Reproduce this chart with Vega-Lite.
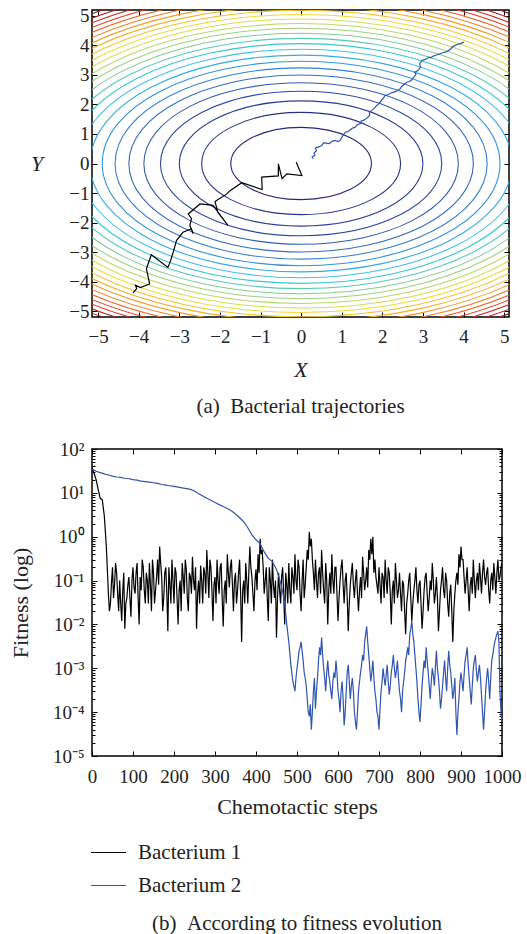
{
"$schema": "https://vega.github.io/schema/vega-lite/v6.json",
"background": "white",
"padding": {"left": 8, "top": 6, "right": 5, "bottom": 5},
"spacing": 21,
"resolve": {"scale": {"color": "independent"}, "legend": {"color": "independent"}},
"config": {
  "font": "Liberation Serif",
  "view": {"stroke": "black", "strokeWidth": 1.5},
  "axis": {"domain": false, "grid": false, "labelFlush": false, "labelFont": "Liberation Serif", "labelFontSize": 19, "labelColor": "#222222", "tickColor": "black", "tickSize": -5, "tickWidth": 1, "labelPadding": 10, "titleFont": "Liberation Serif", "titleFontSize": 22, "titleFontWeight": "normal", "titleColor": "#222222"},
  "title": {"font": "Liberation Serif", "fontSize": 21, "fontWeight": "normal", "color": "#222222"},
  "legend": {"labelFont": "Liberation Serif", "labelFontSize": 21, "labelColor": "#222222"}
},
"vconcat": [
{
  "width": 417, "height": 307,
  "title": {"text": "(a)\u2002Bacterial trajectories", "orient": "bottom", "offset": 16},
  "layer": [
    {
      "data": {"values": [{"level":3},{"level":6},{"level":9},{"level":12},{"level":15},{"level":18},{"level":21},{"level":24},{"level":27},{"level":30},{"level":33},{"level":36},{"level":39},{"level":42},{"level":45},{"level":48},{"level":51},{"level":54},{"level":57},{"level":60},{"level":63},{"level":66},{"level":69},{"level":72},{"level":75},{"level":78}]},
      "mark": {"type": "point", "shape": "M 1 0 C 1 0.2838 0.5523 0.5138 0 0.5138 C -0.5523 0.5138 -1 0.2838 -1 0 C -1 -0.2838 -0.5523 -0.5138 0 -0.5138 C 0.5523 -0.5138 1 -0.2838 1 0 Z", "filled": false, "strokeWidth": 1.1, "opacity": 1, "clip": true},
      "encoding": {
        "x": {"datum": 0, "type": "quantitative", "scale": {"domain": [-5.15, 5.12], "nice": false, "zero": false}, "axis": {"orient": "bottom", "values": [-5,-4,-3,-2,-1,0,1,2,3,4,5], "labelPadding": 15, "title": "X", "titleFontStyle": "italic", "titlePadding": 13}},
        "y": {"datum": 0, "type": "quantitative", "scale": {"domain": [-5.2, 5.2], "nice": false, "zero": false}, "axis": {"orient": "left", "values": [-5,-4,-3,-2,-1,0,1,2,3,4,5], "labelPadding": 8, "title": "Y", "titleFontStyle": "italic", "titleAngle": 0, "titleBaseline": "middle", "titleAlign": "right", "titlePadding": 26}},
        "size": {"field": "level", "type": "quantitative", "scale": {"domain": [0, 78], "range": [0, 514285]}, "legend": null},
        "color": {"field": "level", "type": "quantitative", "scale": {"domain": [0, 10, 20, 30, 40, 50, 60, 70, 80.3], "range": ["#1b2168", "#2b3f9c", "#3a78c8", "#45c0ec", "#93cb8a", "#ede23b", "#f29a2c", "#e2332a", "#7d1a1a"]}, "legend": null}
      }
    },
    {
      "data": {"values": [
        {"bacterium":"Bacterium 1","i":0,"x":-4.14,"y":-4.38},
        {"bacterium":"Bacterium 1","i":1,"x":-4.05,"y":-4.24},
        {"bacterium":"Bacterium 1","i":2,"x":-4.08,"y":-4.12},
        {"bacterium":"Bacterium 1","i":3,"x":-3.96,"y":-4.20},
        {"bacterium":"Bacterium 1","i":4,"x":-3.73,"y":-4.08},
        {"bacterium":"Bacterium 1","i":5,"x":-3.81,"y":-3.57},
        {"bacterium":"Bacterium 1","i":6,"x":-3.69,"y":-3.09},
        {"bacterium":"Bacterium 1","i":7,"x":-3.28,"y":-3.52},
        {"bacterium":"Bacterium 1","i":8,"x":-3.23,"y":-3.35},
        {"bacterium":"Bacterium 1","i":9,"x":-3.15,"y":-3.01},
        {"bacterium":"Bacterium 1","i":10,"x":-3.07,"y":-2.61},
        {"bacterium":"Bacterium 1","i":11,"x":-2.91,"y":-2.33},
        {"bacterium":"Bacterium 1","i":12,"x":-2.70,"y":-2.21},
        {"bacterium":"Bacterium 1","i":13,"x":-2.66,"y":-2.38},
        {"bacterium":"Bacterium 1","i":14,"x":-2.74,"y":-2.10},
        {"bacterium":"Bacterium 1","i":15,"x":-2.70,"y":-1.87},
        {"bacterium":"Bacterium 1","i":16,"x":-2.78,"y":-1.71},
        {"bacterium":"Bacterium 1","i":17,"x":-2.49,"y":-1.37},
        {"bacterium":"Bacterium 1","i":18,"x":-2.17,"y":-1.42},
        {"bacterium":"Bacterium 1","i":19,"x":-1.80,"y":-2.10},
        {"bacterium":"Bacterium 1","i":20,"x":-2.05,"y":-1.66},
        {"bacterium":"Bacterium 1","i":21,"x":-2.12,"y":-1.29},
        {"bacterium":"Bacterium 1","i":22,"x":-1.83,"y":-1.03},
        {"bacterium":"Bacterium 1","i":23,"x":-1.75,"y":-0.92},
        {"bacterium":"Bacterium 1","i":24,"x":-1.46,"y":-0.65},
        {"bacterium":"Bacterium 1","i":25,"x":-0.96,"y":-0.88},
        {"bacterium":"Bacterium 1","i":26,"x":-0.97,"y":-0.46},
        {"bacterium":"Bacterium 1","i":27,"x":-0.56,"y":-0.42},
        {"bacterium":"Bacterium 1","i":28,"x":-0.56,"y":-0.01},
        {"bacterium":"Bacterium 1","i":29,"x":-0.47,"y":-0.51},
        {"bacterium":"Bacterium 1","i":30,"x":-0.35,"y":-0.35},
        {"bacterium":"Bacterium 1","i":31,"x":0.02,"y":-0.41},
        {"bacterium":"Bacterium 1","i":32,"x":-0.12,"y":0.04},
        {"bacterium":"Bacterium 2","i":0,"x":0.30,"y":0.16},
        {"bacterium":"Bacterium 2","i":1,"x":0.27,"y":0.22},
        {"bacterium":"Bacterium 2","i":2,"x":0.34,"y":0.28},
        {"bacterium":"Bacterium 2","i":3,"x":0.32,"y":0.36},
        {"bacterium":"Bacterium 2","i":4,"x":0.38,"y":0.44},
        {"bacterium":"Bacterium 2","i":5,"x":0.35,"y":0.52},
        {"bacterium":"Bacterium 2","i":6,"x":0.45,"y":0.57},
        {"bacterium":"Bacterium 2","i":7,"x":0.51,"y":0.61},
        {"bacterium":"Bacterium 2","i":8,"x":0.55,"y":0.70},
        {"bacterium":"Bacterium 2","i":9,"x":0.62,"y":0.69},
        {"bacterium":"Bacterium 2","i":10,"x":0.70,"y":0.67},
        {"bacterium":"Bacterium 2","i":11,"x":0.76,"y":0.75},
        {"bacterium":"Bacterium 2","i":12,"x":0.84,"y":0.78},
        {"bacterium":"Bacterium 2","i":13,"x":0.90,"y":0.74},
        {"bacterium":"Bacterium 2","i":14,"x":0.96,"y":0.78},
        {"bacterium":"Bacterium 2","i":15,"x":1.00,"y":0.88},
        {"bacterium":"Bacterium 2","i":16,"x":1.03,"y":0.95},
        {"bacterium":"Bacterium 2","i":17,"x":1.09,"y":1.06},
        {"bacterium":"Bacterium 2","i":18,"x":1.15,"y":1.08},
        {"bacterium":"Bacterium 2","i":19,"x":1.21,"y":1.14},
        {"bacterium":"Bacterium 2","i":20,"x":1.27,"y":1.20},
        {"bacterium":"Bacterium 2","i":21,"x":1.33,"y":1.23},
        {"bacterium":"Bacterium 2","i":22,"x":1.38,"y":1.31},
        {"bacterium":"Bacterium 2","i":23,"x":1.46,"y":1.35},
        {"bacterium":"Bacterium 2","i":24,"x":1.48,"y":1.44},
        {"bacterium":"Bacterium 2","i":25,"x":1.55,"y":1.47},
        {"bacterium":"Bacterium 2","i":26,"x":1.60,"y":1.52},
        {"bacterium":"Bacterium 2","i":27,"x":1.66,"y":1.58},
        {"bacterium":"Bacterium 2","i":28,"x":1.69,"y":1.66},
        {"bacterium":"Bacterium 2","i":29,"x":1.68,"y":1.74},
        {"bacterium":"Bacterium 2","i":30,"x":1.74,"y":1.80},
        {"bacterium":"Bacterium 2","i":31,"x":1.79,"y":1.85},
        {"bacterium":"Bacterium 2","i":32,"x":1.85,"y":1.95},
        {"bacterium":"Bacterium 2","i":33,"x":1.91,"y":2.02},
        {"bacterium":"Bacterium 2","i":34,"x":1.96,"y":2.10},
        {"bacterium":"Bacterium 2","i":35,"x":1.99,"y":2.16},
        {"bacterium":"Bacterium 2","i":36,"x":2.04,"y":2.24},
        {"bacterium":"Bacterium 2","i":37,"x":2.07,"y":2.31},
        {"bacterium":"Bacterium 2","i":38,"x":2.14,"y":2.33},
        {"bacterium":"Bacterium 2","i":39,"x":2.20,"y":2.38},
        {"bacterium":"Bacterium 2","i":40,"x":2.28,"y":2.42},
        {"bacterium":"Bacterium 2","i":41,"x":2.35,"y":2.45},
        {"bacterium":"Bacterium 2","i":42,"x":2.40,"y":2.49},
        {"bacterium":"Bacterium 2","i":43,"x":2.44,"y":2.53},
        {"bacterium":"Bacterium 2","i":44,"x":2.47,"y":2.60},
        {"bacterium":"Bacterium 2","i":45,"x":2.52,"y":2.66},
        {"bacterium":"Bacterium 2","i":46,"x":2.61,"y":2.76},
        {"bacterium":"Bacterium 2","i":47,"x":2.66,"y":2.77},
        {"bacterium":"Bacterium 2","i":48,"x":2.71,"y":2.81},
        {"bacterium":"Bacterium 2","i":49,"x":2.76,"y":2.90},
        {"bacterium":"Bacterium 2","i":50,"x":2.79,"y":2.95},
        {"bacterium":"Bacterium 2","i":51,"x":2.83,"y":3.02},
        {"bacterium":"Bacterium 2","i":52,"x":2.80,"y":3.09},
        {"bacterium":"Bacterium 2","i":53,"x":2.87,"y":3.14},
        {"bacterium":"Bacterium 2","i":54,"x":2.90,"y":3.18},
        {"bacterium":"Bacterium 2","i":55,"x":2.94,"y":3.27},
        {"bacterium":"Bacterium 2","i":56,"x":2.92,"y":3.38},
        {"bacterium":"Bacterium 2","i":57,"x":2.98,"y":3.49},
        {"bacterium":"Bacterium 2","i":58,"x":3.04,"y":3.52},
        {"bacterium":"Bacterium 2","i":59,"x":3.09,"y":3.55},
        {"bacterium":"Bacterium 2","i":60,"x":3.15,"y":3.60},
        {"bacterium":"Bacterium 2","i":61,"x":3.19,"y":3.58},
        {"bacterium":"Bacterium 2","i":62,"x":3.25,"y":3.64},
        {"bacterium":"Bacterium 2","i":63,"x":3.31,"y":3.66},
        {"bacterium":"Bacterium 2","i":64,"x":3.38,"y":3.70},
        {"bacterium":"Bacterium 2","i":65,"x":3.43,"y":3.72},
        {"bacterium":"Bacterium 2","i":66,"x":3.50,"y":3.76},
        {"bacterium":"Bacterium 2","i":67,"x":3.56,"y":3.77},
        {"bacterium":"Bacterium 2","i":68,"x":3.62,"y":3.82},
        {"bacterium":"Bacterium 2","i":69,"x":3.66,"y":3.85},
        {"bacterium":"Bacterium 2","i":70,"x":3.71,"y":3.92},
        {"bacterium":"Bacterium 2","i":71,"x":3.75,"y":3.97},
        {"bacterium":"Bacterium 2","i":72,"x":3.80,"y":4.00},
        {"bacterium":"Bacterium 2","i":73,"x":3.84,"y":4.03},
        {"bacterium":"Bacterium 2","i":74,"x":3.92,"y":4.06},
        {"bacterium":"Bacterium 2","i":75,"x":4.01,"y":4.11}
      ]},
      "mark": {"type": "line", "strokeWidth": 1.2, "clip": true},
      "encoding": {
        "x": {"field": "x", "type": "quantitative", "axis": {"orient": "top", "values": [-5,-4,-3,-2,-1,0,1,2,3,4,5], "labels": false, "title": null}},
        "y": {"field": "y", "type": "quantitative", "axis": {"orient": "right", "values": [-5,-4,-3,-2,-1,0,1,2,3,4,5], "labels": false, "title": null}},
        "color": {"field": "bacterium", "type": "nominal", "scale": {"domain": ["Bacterium 1", "Bacterium 2"], "range": ["#000000", "#2f55ae"]}, "legend": null},
        "order": {"field": "i", "type": "quantitative"}
      }
    }
  ],
  "resolve": {"axis": {"x": "independent", "y": "independent"}, "scale": {"color": "independent", "size": "independent"}}
},
{
  "width": 410, "height": 307,
  "title": {"text": "(b)\u2002According to fitness evolution", "orient": "bottom", "offset": 17},
  "data": {"values": [
{"bacterium":"Bacterium 1","step":0,"fitness":38},{"bacterium":"Bacterium 1","step":5,"fitness":28},{"bacterium":"Bacterium 1","step":10,"fitness":20},{"bacterium":"Bacterium 1","step":15,"fitness":12},{"bacterium":"Bacterium 1","step":20,"fitness":7.5},{"bacterium":"Bacterium 1","step":25,"fitness":7},{"bacterium":"Bacterium 1","step":30,"fitness":3},{"bacterium":"Bacterium 1","step":35,"fitness":0.6},{"bacterium":"Bacterium 1","step":40,"fitness":0.05},{"bacterium":"Bacterium 1","step":45,"fitness":0.03},
{"bacterium":"Bacterium 1","step":50,"fitness":0.2},{"bacterium":"Bacterium 1","step":55,"fitness":0.08},{"bacterium":"Bacterium 1","step":60,"fitness":0.15},{"bacterium":"Bacterium 1","step":65,"fitness":0.02},{"bacterium":"Bacterium 1","step":70,"fitness":0.03},{"bacterium":"Bacterium 1","step":75,"fitness":0.06},{"bacterium":"Bacterium 1","step":80,"fitness":0.008},{"bacterium":"Bacterium 1","step":85,"fitness":0.04},{"bacterium":"Bacterium 1","step":90,"fitness":0.12},{"bacterium":"Bacterium 1","step":95,"fitness":0.015},
{"bacterium":"Bacterium 1","step":100,"fitness":0.2},{"bacterium":"Bacterium 1","step":105,"fitness":0.05},{"bacterium":"Bacterium 1","step":110,"fitness":0.25},{"bacterium":"Bacterium 1","step":115,"fitness":0.01},{"bacterium":"Bacterium 1","step":120,"fitness":0.06},{"bacterium":"Bacterium 1","step":125,"fitness":0.2},{"bacterium":"Bacterium 1","step":130,"fitness":0.03},{"bacterium":"Bacterium 1","step":135,"fitness":0.1},{"bacterium":"Bacterium 1","step":140,"fitness":0.25},{"bacterium":"Bacterium 1","step":145,"fitness":0.02},
{"bacterium":"Bacterium 1","step":150,"fitness":0.15},{"bacterium":"Bacterium 1","step":155,"fitness":0.06},{"bacterium":"Bacterium 1","step":160,"fitness":0.3},{"bacterium":"Bacterium 1","step":165,"fitness":0.6},{"bacterium":"Bacterium 1","step":170,"fitness":0.12},{"bacterium":"Bacterium 1","step":175,"fitness":0.04},{"bacterium":"Bacterium 1","step":180,"fitness":0.2},{"bacterium":"Bacterium 1","step":185,"fitness":0.007},{"bacterium":"Bacterium 1","step":190,"fitness":0.08},{"bacterium":"Bacterium 1","step":195,"fitness":0.3},
{"bacterium":"Bacterium 1","step":200,"fitness":0.03},{"bacterium":"Bacterium 1","step":205,"fitness":0.15},{"bacterium":"Bacterium 1","step":210,"fitness":0.01},{"bacterium":"Bacterium 1","step":215,"fitness":0.1},{"bacterium":"Bacterium 1","step":220,"fitness":0.25},{"bacterium":"Bacterium 1","step":225,"fitness":0.05},{"bacterium":"Bacterium 1","step":230,"fitness":0.18},{"bacterium":"Bacterium 1","step":235,"fitness":0.02},{"bacterium":"Bacterium 1","step":240,"fitness":0.12},{"bacterium":"Bacterium 1","step":245,"fitness":0.35},
{"bacterium":"Bacterium 1","step":250,"fitness":0.06},{"bacterium":"Bacterium 1","step":255,"fitness":0.008},{"bacterium":"Bacterium 1","step":260,"fitness":0.1},{"bacterium":"Bacterium 1","step":265,"fitness":0.22},{"bacterium":"Bacterium 1","step":270,"fitness":0.03},{"bacterium":"Bacterium 1","step":275,"fitness":0.15},{"bacterium":"Bacterium 1","step":280,"fitness":0.5},{"bacterium":"Bacterium 1","step":285,"fitness":0.04},{"bacterium":"Bacterium 1","step":290,"fitness":0.2},{"bacterium":"Bacterium 1","step":295,"fitness":0.012},
{"bacterium":"Bacterium 1","step":300,"fitness":0.12},{"bacterium":"Bacterium 1","step":305,"fitness":0.3},{"bacterium":"Bacterium 1","step":310,"fitness":0.05},{"bacterium":"Bacterium 1","step":315,"fitness":0.25},{"bacterium":"Bacterium 1","step":320,"fitness":0.009},{"bacterium":"Bacterium 1","step":325,"fitness":0.1},{"bacterium":"Bacterium 1","step":330,"fitness":0.4},{"bacterium":"Bacterium 1","step":335,"fitness":0.07},{"bacterium":"Bacterium 1","step":340,"fitness":0.3},{"bacterium":"Bacterium 1","step":345,"fitness":0.02},
{"bacterium":"Bacterium 1","step":350,"fitness":0.15},{"bacterium":"Bacterium 1","step":355,"fitness":0.06},{"bacterium":"Bacterium 1","step":360,"fitness":0.3},{"bacterium":"Bacterium 1","step":365,"fitness":0.004},{"bacterium":"Bacterium 1","step":370,"fitness":0.1},{"bacterium":"Bacterium 1","step":375,"fitness":0.25},{"bacterium":"Bacterium 1","step":380,"fitness":0.03},{"bacterium":"Bacterium 1","step":385,"fitness":0.6},{"bacterium":"Bacterium 1","step":390,"fitness":0.12},{"bacterium":"Bacterium 1","step":395,"fitness":0.02},
{"bacterium":"Bacterium 1","step":400,"fitness":0.18},{"bacterium":"Bacterium 1","step":405,"fitness":0.4},{"bacterium":"Bacterium 1","step":410,"fitness":0.9},{"bacterium":"Bacterium 1","step":415,"fitness":0.5},{"bacterium":"Bacterium 1","step":420,"fitness":0.05},{"bacterium":"Bacterium 1","step":425,"fitness":0.2},{"bacterium":"Bacterium 1","step":430,"fitness":0.012},{"bacterium":"Bacterium 1","step":435,"fitness":0.1},{"bacterium":"Bacterium 1","step":440,"fitness":0.3},{"bacterium":"Bacterium 1","step":445,"fitness":0.04},
{"bacterium":"Bacterium 1","step":450,"fitness":0.005},{"bacterium":"Bacterium 1","step":455,"fitness":0.15},{"bacterium":"Bacterium 1","step":460,"fitness":0.03},{"bacterium":"Bacterium 1","step":465,"fitness":0.2},{"bacterium":"Bacterium 1","step":470,"fitness":0.01},{"bacterium":"Bacterium 1","step":475,"fitness":0.08},{"bacterium":"Bacterium 1","step":480,"fitness":0.25},{"bacterium":"Bacterium 1","step":485,"fitness":0.03},{"bacterium":"Bacterium 1","step":490,"fitness":0.12},{"bacterium":"Bacterium 1","step":495,"fitness":0.4},
{"bacterium":"Bacterium 1","step":500,"fitness":0.06},{"bacterium":"Bacterium 1","step":505,"fitness":0.2},{"bacterium":"Bacterium 1","step":510,"fitness":0.02},{"bacterium":"Bacterium 1","step":515,"fitness":0.3},{"bacterium":"Bacterium 1","step":520,"fitness":0.08},{"bacterium":"Bacterium 1","step":525,"fitness":0.5},{"bacterium":"Bacterium 1","step":530,"fitness":1.3},{"bacterium":"Bacterium 1","step":535,"fitness":0.9},{"bacterium":"Bacterium 1","step":540,"fitness":0.15},{"bacterium":"Bacterium 1","step":545,"fitness":0.3},
{"bacterium":"Bacterium 1","step":550,"fitness":0.04},{"bacterium":"Bacterium 1","step":555,"fitness":0.2},{"bacterium":"Bacterium 1","step":560,"fitness":0.5},{"bacterium":"Bacterium 1","step":565,"fitness":0.06},{"bacterium":"Bacterium 1","step":570,"fitness":0.25},{"bacterium":"Bacterium 1","step":575,"fitness":0.01},{"bacterium":"Bacterium 1","step":580,"fitness":0.15},{"bacterium":"Bacterium 1","step":585,"fitness":0.4},{"bacterium":"Bacterium 1","step":590,"fitness":0.05},{"bacterium":"Bacterium 1","step":595,"fitness":0.2},
{"bacterium":"Bacterium 1","step":600,"fitness":0.012},{"bacterium":"Bacterium 1","step":605,"fitness":0.1},{"bacterium":"Bacterium 1","step":610,"fitness":0.3},{"bacterium":"Bacterium 1","step":615,"fitness":0.03},{"bacterium":"Bacterium 1","step":620,"fitness":0.15},{"bacterium":"Bacterium 1","step":625,"fitness":0.007},{"bacterium":"Bacterium 1","step":630,"fitness":0.08},{"bacterium":"Bacterium 1","step":635,"fitness":0.25},{"bacterium":"Bacterium 1","step":640,"fitness":0.04},{"bacterium":"Bacterium 1","step":645,"fitness":0.18},
{"bacterium":"Bacterium 1","step":650,"fitness":0.02},{"bacterium":"Bacterium 1","step":655,"fitness":0.12},{"bacterium":"Bacterium 1","step":660,"fitness":0.35},{"bacterium":"Bacterium 1","step":665,"fitness":0.06},{"bacterium":"Bacterium 1","step":670,"fitness":0.2},{"bacterium":"Bacterium 1","step":675,"fitness":0.5},{"bacterium":"Bacterium 1","step":680,"fitness":0.9},{"bacterium":"Bacterium 1","step":685,"fitness":1.0},{"bacterium":"Bacterium 1","step":690,"fitness":0.3},{"bacterium":"Bacterium 1","step":695,"fitness":0.08},
{"bacterium":"Bacterium 1","step":700,"fitness":0.2},{"bacterium":"Bacterium 1","step":705,"fitness":0.03},{"bacterium":"Bacterium 1","step":710,"fitness":0.12},{"bacterium":"Bacterium 1","step":715,"fitness":0.3},{"bacterium":"Bacterium 1","step":720,"fitness":0.05},{"bacterium":"Bacterium 1","step":725,"fitness":0.15},{"bacterium":"Bacterium 1","step":730,"fitness":0.01},{"bacterium":"Bacterium 1","step":735,"fitness":0.1},{"bacterium":"Bacterium 1","step":740,"fitness":0.25},{"bacterium":"Bacterium 1","step":745,"fitness":0.04},
{"bacterium":"Bacterium 1","step":750,"fitness":0.15},{"bacterium":"Bacterium 1","step":755,"fitness":0.02},{"bacterium":"Bacterium 1","step":760,"fitness":0.08},{"bacterium":"Bacterium 1","step":765,"fitness":0.006},{"bacterium":"Bacterium 1","step":770,"fitness":0.05},{"bacterium":"Bacterium 1","step":775,"fitness":0.15},{"bacterium":"Bacterium 1","step":780,"fitness":0.012},{"bacterium":"Bacterium 1","step":785,"fitness":0.06},{"bacterium":"Bacterium 1","step":790,"fitness":0.2},{"bacterium":"Bacterium 1","step":795,"fitness":0.03},
{"bacterium":"Bacterium 1","step":800,"fitness":0.1},{"bacterium":"Bacterium 1","step":805,"fitness":0.008},{"bacterium":"Bacterium 1","step":810,"fitness":0.06},{"bacterium":"Bacterium 1","step":815,"fitness":0.15},{"bacterium":"Bacterium 1","step":820,"fitness":0.02},{"bacterium":"Bacterium 1","step":825,"fitness":0.1},{"bacterium":"Bacterium 1","step":830,"fitness":0.25},{"bacterium":"Bacterium 1","step":835,"fitness":0.03},{"bacterium":"Bacterium 1","step":840,"fitness":0.12},{"bacterium":"Bacterium 1","step":845,"fitness":0.007},
{"bacterium":"Bacterium 1","step":850,"fitness":0.06},{"bacterium":"Bacterium 1","step":855,"fitness":0.2},{"bacterium":"Bacterium 1","step":860,"fitness":0.04},{"bacterium":"Bacterium 1","step":865,"fitness":0.1},{"bacterium":"Bacterium 1","step":870,"fitness":0.015},{"bacterium":"Bacterium 1","step":875,"fitness":0.08},{"bacterium":"Bacterium 1","step":880,"fitness":0.004},{"bacterium":"Bacterium 1","step":885,"fitness":0.05},{"bacterium":"Bacterium 1","step":890,"fitness":0.15},{"bacterium":"Bacterium 1","step":895,"fitness":0.4},
{"bacterium":"Bacterium 1","step":900,"fitness":0.6},{"bacterium":"Bacterium 1","step":905,"fitness":0.3},{"bacterium":"Bacterium 1","step":910,"fitness":0.05},{"bacterium":"Bacterium 1","step":915,"fitness":0.2},{"bacterium":"Bacterium 1","step":920,"fitness":0.02},{"bacterium":"Bacterium 1","step":925,"fitness":0.12},{"bacterium":"Bacterium 1","step":930,"fitness":0.3},{"bacterium":"Bacterium 1","step":935,"fitness":0.04},{"bacterium":"Bacterium 1","step":940,"fitness":0.15},{"bacterium":"Bacterium 1","step":945,"fitness":0.25},
{"bacterium":"Bacterium 1","step":950,"fitness":0.05},{"bacterium":"Bacterium 1","step":955,"fitness":0.3},{"bacterium":"Bacterium 1","step":960,"fitness":0.08},{"bacterium":"Bacterium 1","step":965,"fitness":0.2},{"bacterium":"Bacterium 1","step":970,"fitness":0.03},{"bacterium":"Bacterium 1","step":975,"fitness":0.15},{"bacterium":"Bacterium 1","step":980,"fitness":0.25},{"bacterium":"Bacterium 1","step":985,"fitness":0.05},{"bacterium":"Bacterium 1","step":990,"fitness":0.3},{"bacterium":"Bacterium 1","step":995,"fitness":0.12},{"bacterium":"Bacterium 1","step":1000,"fitness":0.25},
{"bacterium":"Bacterium 1","step":42.5,"fitness":0.02},{"bacterium":"Bacterium 1","step":47.5,"fitness":0.09},{"bacterium":"Bacterium 1","step":52.5,"fitness":0.04},{"bacterium":"Bacterium 1","step":57.5,"fitness":0.25},{"bacterium":"Bacterium 1","step":62.5,"fitness":0.05},{"bacterium":"Bacterium 1","step":67.5,"fitness":0.1},{"bacterium":"Bacterium 1","step":72.5,"fitness":0.012},{"bacterium":"Bacterium 1","step":77.5,"fitness":0.15},{"bacterium":"Bacterium 1","step":82.5,"fitness":0.03},{"bacterium":"Bacterium 1","step":87.5,"fitness":0.08},
{"bacterium":"Bacterium 1","step":92.5,"fitness":0.04},{"bacterium":"Bacterium 1","step":97.5,"fitness":0.1},{"bacterium":"Bacterium 1","step":102.5,"fitness":0.07},{"bacterium":"Bacterium 1","step":107.5,"fitness":0.15},{"bacterium":"Bacterium 1","step":112.5,"fitness":0.04},{"bacterium":"Bacterium 1","step":117.5,"fitness":0.12},{"bacterium":"Bacterium 1","step":122.5,"fitness":0.3},{"bacterium":"Bacterium 1","step":127.5,"fitness":0.06},{"bacterium":"Bacterium 1","step":132.5,"fitness":0.15},{"bacterium":"Bacterium 1","step":137.5,"fitness":0.03},
{"bacterium":"Bacterium 1","step":142.5,"fitness":0.08},{"bacterium":"Bacterium 1","step":147.5,"fitness":0.3},{"bacterium":"Bacterium 1","step":152.5,"fitness":0.03},{"bacterium":"Bacterium 1","step":157.5,"fitness":0.12},{"bacterium":"Bacterium 1","step":162.5,"fitness":0.08},{"bacterium":"Bacterium 1","step":167.5,"fitness":0.25},{"bacterium":"Bacterium 1","step":172.5,"fitness":0.02},{"bacterium":"Bacterium 1","step":177.5,"fitness":0.15},{"bacterium":"Bacterium 1","step":182.5,"fitness":0.05},{"bacterium":"Bacterium 1","step":187.5,"fitness":0.2},
{"bacterium":"Bacterium 1","step":192.5,"fitness":0.03},{"bacterium":"Bacterium 1","step":197.5,"fitness":0.1},{"bacterium":"Bacterium 1","step":202.5,"fitness":0.2},{"bacterium":"Bacterium 1","step":207.5,"fitness":0.04},{"bacterium":"Bacterium 1","step":212.5,"fitness":0.06},{"bacterium":"Bacterium 1","step":217.5,"fitness":0.02},{"bacterium":"Bacterium 1","step":222.5,"fitness":0.12},{"bacterium":"Bacterium 1","step":227.5,"fitness":0.3},{"bacterium":"Bacterium 1","step":232.5,"fitness":0.04},{"bacterium":"Bacterium 1","step":237.5,"fitness":0.15},
{"bacterium":"Bacterium 1","step":242.5,"fitness":0.05},{"bacterium":"Bacterium 1","step":247.5,"fitness":0.1},{"bacterium":"Bacterium 1","step":252.5,"fitness":0.2},{"bacterium":"Bacterium 1","step":257.5,"fitness":0.05},{"bacterium":"Bacterium 1","step":262.5,"fitness":0.03},{"bacterium":"Bacterium 1","step":267.5,"fitness":0.1},{"bacterium":"Bacterium 1","step":272.5,"fitness":0.2},{"bacterium":"Bacterium 1","step":277.5,"fitness":0.05},{"bacterium":"Bacterium 1","step":282.5,"fitness":0.15},{"bacterium":"Bacterium 1","step":287.5,"fitness":0.3},
{"bacterium":"Bacterium 1","step":292.5,"fitness":0.06},{"bacterium":"Bacterium 1","step":297.5,"fitness":0.08},{"bacterium":"Bacterium 1","step":302.5,"fitness":0.03},{"bacterium":"Bacterium 1","step":307.5,"fitness":0.1},{"bacterium":"Bacterium 1","step":312.5,"fitness":0.2},{"bacterium":"Bacterium 1","step":317.5,"fitness":0.04},{"bacterium":"Bacterium 1","step":322.5,"fitness":0.06},{"bacterium":"Bacterium 1","step":327.5,"fitness":0.03},{"bacterium":"Bacterium 1","step":332.5,"fitness":0.15},{"bacterium":"Bacterium 1","step":337.5,"fitness":0.2},
{"bacterium":"Bacterium 1","step":342.5,"fitness":0.08},{"bacterium":"Bacterium 1","step":347.5,"fitness":0.1},{"bacterium":"Bacterium 1","step":352.5,"fitness":0.03},{"bacterium":"Bacterium 1","step":357.5,"fitness":0.15},{"bacterium":"Bacterium 1","step":362.5,"fitness":0.05},{"bacterium":"Bacterium 1","step":367.5,"fitness":0.06},{"bacterium":"Bacterium 1","step":372.5,"fitness":0.03},{"bacterium":"Bacterium 1","step":377.5,"fitness":0.1},{"bacterium":"Bacterium 1","step":382.5,"fitness":0.15},{"bacterium":"Bacterium 1","step":387.5,"fitness":0.2},
{"bacterium":"Bacterium 1","step":392.5,"fitness":0.05},{"bacterium":"Bacterium 1","step":397.5,"fitness":0.1},{"bacterium":"Bacterium 1","step":402.5,"fitness":0.06},{"bacterium":"Bacterium 1","step":407.5,"fitness":0.15},{"bacterium":"Bacterium 1","step":412.5,"fitness":0.4},{"bacterium":"Bacterium 1","step":417.5,"fitness":0.2},{"bacterium":"Bacterium 1","step":422.5,"fitness":0.1},{"bacterium":"Bacterium 1","step":427.5,"fitness":0.04},{"bacterium":"Bacterium 1","step":432.5,"fitness":0.2},{"bacterium":"Bacterium 1","step":437.5,"fitness":0.03},
{"bacterium":"Bacterium 1","step":442.5,"fitness":0.08},{"bacterium":"Bacterium 1","step":447.5,"fitness":0.1},{"bacterium":"Bacterium 1","step":452.5,"fitness":0.04},{"bacterium":"Bacterium 1","step":457.5,"fitness":0.06},{"bacterium":"Bacterium 1","step":462.5,"fitness":0.12},{"bacterium":"Bacterium 1","step":467.5,"fitness":0.05},{"bacterium":"Bacterium 1","step":472.5,"fitness":0.15},{"bacterium":"Bacterium 1","step":477.5,"fitness":0.03},{"bacterium":"Bacterium 1","step":482.5,"fitness":0.06},{"bacterium":"Bacterium 1","step":487.5,"fitness":0.2},
{"bacterium":"Bacterium 1","step":492.5,"fitness":0.05},{"bacterium":"Bacterium 1","step":497.5,"fitness":0.1},{"bacterium":"Bacterium 1","step":502.5,"fitness":0.3},{"bacterium":"Bacterium 1","step":507.5,"fitness":0.05},{"bacterium":"Bacterium 1","step":512.5,"fitness":0.1},{"bacterium":"Bacterium 1","step":517.5,"fitness":0.04},{"bacterium":"Bacterium 1","step":522.5,"fitness":0.2},{"bacterium":"Bacterium 1","step":527.5,"fitness":0.3},{"bacterium":"Bacterium 1","step":532.5,"fitness":0.6},{"bacterium":"Bacterium 1","step":537.5,"fitness":0.3},
{"bacterium":"Bacterium 1","step":542.5,"fitness":0.06},{"bacterium":"Bacterium 1","step":547.5,"fitness":0.1},{"bacterium":"Bacterium 1","step":552.5,"fitness":0.15},{"bacterium":"Bacterium 1","step":557.5,"fitness":0.05},{"bacterium":"Bacterium 1","step":562.5,"fitness":0.15},{"bacterium":"Bacterium 1","step":567.5,"fitness":0.03},{"bacterium":"Bacterium 1","step":572.5,"fitness":0.1},{"bacterium":"Bacterium 1","step":577.5,"fitness":0.06},{"bacterium":"Bacterium 1","step":582.5,"fitness":0.05},{"bacterium":"Bacterium 1","step":587.5,"fitness":0.1},
{"bacterium":"Bacterium 1","step":592.5,"fitness":0.2},{"bacterium":"Bacterium 1","step":597.5,"fitness":0.05},{"bacterium":"Bacterium 1","step":602.5,"fitness":0.04},{"bacterium":"Bacterium 1","step":607.5,"fitness":0.2},{"bacterium":"Bacterium 1","step":612.5,"fitness":0.08},{"bacterium":"Bacterium 1","step":617.5,"fitness":0.1},{"bacterium":"Bacterium 1","step":622.5,"fitness":0.04},{"bacterium":"Bacterium 1","step":627.5,"fitness":0.03},{"bacterium":"Bacterium 1","step":632.5,"fitness":0.15},{"bacterium":"Bacterium 1","step":637.5,"fitness":0.08},
{"bacterium":"Bacterium 1","step":642.5,"fitness":0.1},{"bacterium":"Bacterium 1","step":647.5,"fitness":0.05},{"bacterium":"Bacterium 1","step":652.5,"fitness":0.06},{"bacterium":"Bacterium 1","step":657.5,"fitness":0.04},{"bacterium":"Bacterium 1","step":662.5,"fitness":0.15},{"bacterium":"Bacterium 1","step":667.5,"fitness":0.1},{"bacterium":"Bacterium 1","step":672.5,"fitness":0.07},{"bacterium":"Bacterium 1","step":677.5,"fitness":0.3},{"bacterium":"Bacterium 1","step":682.5,"fitness":0.4},{"bacterium":"Bacterium 1","step":687.5,"fitness":0.15},
{"bacterium":"Bacterium 1","step":692.5,"fitness":0.12},{"bacterium":"Bacterium 1","step":697.5,"fitness":0.05},{"bacterium":"Bacterium 1","step":702.5,"fitness":0.08},{"bacterium":"Bacterium 1","step":707.5,"fitness":0.15},{"bacterium":"Bacterium 1","step":712.5,"fitness":0.04},{"bacterium":"Bacterium 1","step":717.5,"fitness":0.1},{"bacterium":"Bacterium 1","step":722.5,"fitness":0.2},{"bacterium":"Bacterium 1","step":727.5,"fitness":0.05},{"bacterium":"Bacterium 1","step":732.5,"fitness":0.06},{"bacterium":"Bacterium 1","step":737.5,"fitness":0.03},
{"bacterium":"Bacterium 1","step":742.5,"fitness":0.1},{"bacterium":"Bacterium 1","step":747.5,"fitness":0.06},{"bacterium":"Bacterium 1","step":752.5,"fitness":0.05},{"bacterium":"Bacterium 1","step":757.5,"fitness":0.1},{"bacterium":"Bacterium 1","step":762.5,"fitness":0.02},{"bacterium":"Bacterium 1","step":767.5,"fitness":0.03},{"bacterium":"Bacterium 1","step":772.5,"fitness":0.1},{"bacterium":"Bacterium 1","step":777.5,"fitness":0.04},{"bacterium":"Bacterium 1","step":782.5,"fitness":0.03},{"bacterium":"Bacterium 1","step":787.5,"fitness":0.1},
{"bacterium":"Bacterium 1","step":792.5,"fitness":0.06},{"bacterium":"Bacterium 1","step":797.5,"fitness":0.08},{"bacterium":"Bacterium 1","step":802.5,"fitness":0.03},{"bacterium":"Bacterium 1","step":807.5,"fitness":0.02},{"bacterium":"Bacterium 1","step":812.5,"fitness":0.12},{"bacterium":"Bacterium 1","step":817.5,"fitness":0.05},{"bacterium":"Bacterium 1","step":822.5,"fitness":0.04},{"bacterium":"Bacterium 1","step":827.5,"fitness":0.06},{"bacterium":"Bacterium 1","step":832.5,"fitness":0.1},{"bacterium":"Bacterium 1","step":837.5,"fitness":0.05},
{"bacterium":"Bacterium 1","step":842.5,"fitness":0.04},{"bacterium":"Bacterium 1","step":847.5,"fitness":0.02},{"bacterium":"Bacterium 1","step":852.5,"fitness":0.1},{"bacterium":"Bacterium 1","step":857.5,"fitness":0.06},{"bacterium":"Bacterium 1","step":862.5,"fitness":0.15},{"bacterium":"Bacterium 1","step":867.5,"fitness":0.03},{"bacterium":"Bacterium 1","step":872.5,"fitness":0.05},{"bacterium":"Bacterium 1","step":877.5,"fitness":0.02},{"bacterium":"Bacterium 1","step":882.5,"fitness":0.02},{"bacterium":"Bacterium 1","step":887.5,"fitness":0.1},
{"bacterium":"Bacterium 1","step":892.5,"fitness":0.08},{"bacterium":"Bacterium 1","step":897.5,"fitness":0.2},{"bacterium":"Bacterium 1","step":902.5,"fitness":0.3},{"bacterium":"Bacterium 1","step":907.5,"fitness":0.12},{"bacterium":"Bacterium 1","step":912.5,"fitness":0.1},{"bacterium":"Bacterium 1","step":917.5,"fitness":0.06},{"bacterium":"Bacterium 1","step":922.5,"fitness":0.08},{"bacterium":"Bacterium 1","step":927.5,"fitness":0.05},{"bacterium":"Bacterium 1","step":932.5,"fitness":0.1},{"bacterium":"Bacterium 1","step":937.5,"fitness":0.1},
{"bacterium":"Bacterium 1","step":942.5,"fitness":0.06},{"bacterium":"Bacterium 1","step":947.5,"fitness":0.12},{"bacterium":"Bacterium 1","step":952.5,"fitness":0.15},{"bacterium":"Bacterium 1","step":957.5,"fitness":0.12},{"bacterium":"Bacterium 1","step":962.5,"fitness":0.15},{"bacterium":"Bacterium 1","step":967.5,"fitness":0.06},{"bacterium":"Bacterium 1","step":972.5,"fitness":0.1},{"bacterium":"Bacterium 1","step":977.5,"fitness":0.06},{"bacterium":"Bacterium 1","step":982.5,"fitness":0.12},{"bacterium":"Bacterium 1","step":987.5,"fitness":0.15},
{"bacterium":"Bacterium 1","step":992.5,"fitness":0.1},{"bacterium":"Bacterium 1","step":997.5,"fitness":0.2},
{"bacterium":"Bacterium 2","step":0,"fitness":35},{"bacterium":"Bacterium 2","step":10,"fitness":31},{"bacterium":"Bacterium 2","step":20,"fitness":29},{"bacterium":"Bacterium 2","step":30,"fitness":27},{"bacterium":"Bacterium 2","step":40,"fitness":25.5},{"bacterium":"Bacterium 2","step":50,"fitness":24},{"bacterium":"Bacterium 2","step":60,"fitness":23},{"bacterium":"Bacterium 2","step":70,"fitness":22.5},{"bacterium":"Bacterium 2","step":80,"fitness":21.5},{"bacterium":"Bacterium 2","step":90,"fitness":21},
{"bacterium":"Bacterium 2","step":100,"fitness":20},{"bacterium":"Bacterium 2","step":110,"fitness":19.5},{"bacterium":"Bacterium 2","step":120,"fitness":18.5},{"bacterium":"Bacterium 2","step":130,"fitness":18},{"bacterium":"Bacterium 2","step":140,"fitness":17.5},{"bacterium":"Bacterium 2","step":150,"fitness":17},{"bacterium":"Bacterium 2","step":160,"fitness":16.5},{"bacterium":"Bacterium 2","step":170,"fitness":15.5},{"bacterium":"Bacterium 2","step":180,"fitness":15},{"bacterium":"Bacterium 2","step":190,"fitness":14.5},
{"bacterium":"Bacterium 2","step":200,"fitness":14},{"bacterium":"Bacterium 2","step":210,"fitness":13.5},{"bacterium":"Bacterium 2","step":220,"fitness":13},{"bacterium":"Bacterium 2","step":230,"fitness":12.5},{"bacterium":"Bacterium 2","step":240,"fitness":12},{"bacterium":"Bacterium 2","step":250,"fitness":11},{"bacterium":"Bacterium 2","step":260,"fitness":9.5},{"bacterium":"Bacterium 2","step":270,"fitness":8.5},{"bacterium":"Bacterium 2","step":280,"fitness":7.5},{"bacterium":"Bacterium 2","step":290,"fitness":6.8},
{"bacterium":"Bacterium 2","step":300,"fitness":6},{"bacterium":"Bacterium 2","step":310,"fitness":5.4},{"bacterium":"Bacterium 2","step":320,"fitness":4.9},{"bacterium":"Bacterium 2","step":330,"fitness":4.4},{"bacterium":"Bacterium 2","step":340,"fitness":3.9},{"bacterium":"Bacterium 2","step":350,"fitness":3.3},{"bacterium":"Bacterium 2","step":360,"fitness":2.7},{"bacterium":"Bacterium 2","step":370,"fitness":2.2},{"bacterium":"Bacterium 2","step":380,"fitness":1.6},{"bacterium":"Bacterium 2","step":390,"fitness":1.1},
{"bacterium":"Bacterium 2","step":400,"fitness":0.85},{"bacterium":"Bacterium 2","step":410,"fitness":0.7},{"bacterium":"Bacterium 2","step":420,"fitness":0.45},{"bacterium":"Bacterium 2","step":430,"fitness":0.32},{"bacterium":"Bacterium 2","step":440,"fitness":0.27},{"bacterium":"Bacterium 2","step":450,"fitness":0.18},{"bacterium":"Bacterium 2","step":460,"fitness":0.09},{"bacterium":"Bacterium 2","step":465,"fitness":0.055},{"bacterium":"Bacterium 2","step":470,"fitness":0.03},{"bacterium":"Bacterium 2","step":475,"fitness":0.01},
{"bacterium":"Bacterium 2","step":480,"fitness":0.004},{"bacterium":"Bacterium 2","step":485,"fitness":0.0012},{"bacterium":"Bacterium 2","step":490,"fitness":0.0005},{"bacterium":"Bacterium 2","step":495,"fitness":0.0003},
{"bacterium":"Bacterium 2","step":500,"fitness":0.001},{"bacterium":"Bacterium 2","step":505,"fitness":0.0025},{"bacterium":"Bacterium 2","step":510,"fitness":0.004},{"bacterium":"Bacterium 2","step":515,"fitness":0.0015},{"bacterium":"Bacterium 2","step":520,"fitness":0.0006},{"bacterium":"Bacterium 2","step":525,"fitness":0.0002},{"bacterium":"Bacterium 2","step":530,"fitness":0.00008},{"bacterium":"Bacterium 2","step":535,"fitness":0.00004},{"bacterium":"Bacterium 2","step":540,"fitness":0.0003},{"bacterium":"Bacterium 2","step":545,"fitness":0.00012},
{"bacterium":"Bacterium 2","step":550,"fitness":0.0006},{"bacterium":"Bacterium 2","step":555,"fitness":0.003},{"bacterium":"Bacterium 2","step":560,"fitness":0.005},{"bacterium":"Bacterium 2","step":565,"fitness":0.001},{"bacterium":"Bacterium 2","step":570,"fitness":0.0003},{"bacterium":"Bacterium 2","step":575,"fitness":0.0015},{"bacterium":"Bacterium 2","step":580,"fitness":0.0005},{"bacterium":"Bacterium 2","step":585,"fitness":0.0002},{"bacterium":"Bacterium 2","step":590,"fitness":0.0008},{"bacterium":"Bacterium 2","step":595,"fitness":0.0015},
{"bacterium":"Bacterium 2","step":600,"fitness":0.0003},{"bacterium":"Bacterium 2","step":605,"fitness":0.0001},{"bacterium":"Bacterium 2","step":610,"fitness":0.0005},{"bacterium":"Bacterium 2","step":615,"fitness":0.00005},{"bacterium":"Bacterium 2","step":620,"fitness":0.0003},{"bacterium":"Bacterium 2","step":625,"fitness":0.0012},{"bacterium":"Bacterium 2","step":630,"fitness":0.0002},{"bacterium":"Bacterium 2","step":635,"fitness":0.0006},{"bacterium":"Bacterium 2","step":640,"fitness":0.0001},{"bacterium":"Bacterium 2","step":645,"fitness":0.00004},
{"bacterium":"Bacterium 2","step":650,"fitness":0.0003},{"bacterium":"Bacterium 2","step":655,"fitness":0.0008},{"bacterium":"Bacterium 2","step":660,"fitness":0.002},{"bacterium":"Bacterium 2","step":665,"fitness":0.004},{"bacterium":"Bacterium 2","step":670,"fitness":0.009},{"bacterium":"Bacterium 2","step":675,"fitness":0.002},{"bacterium":"Bacterium 2","step":680,"fitness":0.0005},{"bacterium":"Bacterium 2","step":685,"fitness":0.0015},{"bacterium":"Bacterium 2","step":690,"fitness":0.0003},{"bacterium":"Bacterium 2","step":695,"fitness":0.0001},
{"bacterium":"Bacterium 2","step":700,"fitness":0.00004},{"bacterium":"Bacterium 2","step":705,"fitness":0.0003},{"bacterium":"Bacterium 2","step":710,"fitness":0.001},{"bacterium":"Bacterium 2","step":715,"fitness":0.0004},{"bacterium":"Bacterium 2","step":720,"fitness":0.0012},{"bacterium":"Bacterium 2","step":725,"fitness":0.00025},{"bacterium":"Bacterium 2","step":730,"fitness":0.0008},{"bacterium":"Bacterium 2","step":735,"fitness":0.002},{"bacterium":"Bacterium 2","step":740,"fitness":0.0006},{"bacterium":"Bacterium 2","step":745,"fitness":0.0015},
{"bacterium":"Bacterium 2","step":750,"fitness":0.0003},{"bacterium":"Bacterium 2","step":755,"fitness":0.0001},{"bacterium":"Bacterium 2","step":760,"fitness":0.0005},{"bacterium":"Bacterium 2","step":765,"fitness":0.0015},{"bacterium":"Bacterium 2","step":770,"fitness":0.003},{"bacterium":"Bacterium 2","step":775,"fitness":0.006},{"bacterium":"Bacterium 2","step":780,"fitness":0.012},{"bacterium":"Bacterium 2","step":785,"fitness":0.004},{"bacterium":"Bacterium 2","step":790,"fitness":0.001},{"bacterium":"Bacterium 2","step":795,"fitness":0.0002},
{"bacterium":"Bacterium 2","step":800,"fitness":0.00006},{"bacterium":"Bacterium 2","step":805,"fitness":0.0004},{"bacterium":"Bacterium 2","step":810,"fitness":0.0015},{"bacterium":"Bacterium 2","step":815,"fitness":0.003},{"bacterium":"Bacterium 2","step":820,"fitness":0.0008},{"bacterium":"Bacterium 2","step":825,"fitness":0.0002},{"bacterium":"Bacterium 2","step":830,"fitness":0.001},{"bacterium":"Bacterium 2","step":835,"fitness":0.0004},{"bacterium":"Bacterium 2","step":840,"fitness":0.0025},{"bacterium":"Bacterium 2","step":845,"fitness":0.0006},
{"bacterium":"Bacterium 2","step":850,"fitness":0.00012},{"bacterium":"Bacterium 2","step":855,"fitness":0.0004},{"bacterium":"Bacterium 2","step":860,"fitness":0.0015},{"bacterium":"Bacterium 2","step":865,"fitness":0.0003},{"bacterium":"Bacterium 2","step":870,"fitness":0.0025},{"bacterium":"Bacterium 2","step":875,"fitness":0.0008},{"bacterium":"Bacterium 2","step":880,"fitness":0.0002},{"bacterium":"Bacterium 2","step":885,"fitness":0.0006},{"bacterium":"Bacterium 2","step":890,"fitness":0.00003},{"bacterium":"Bacterium 2","step":895,"fitness":0.0002},
{"bacterium":"Bacterium 2","step":900,"fitness":0.0008},{"bacterium":"Bacterium 2","step":905,"fitness":0.0003},{"bacterium":"Bacterium 2","step":910,"fitness":0.0015},{"bacterium":"Bacterium 2","step":915,"fitness":0.003},{"bacterium":"Bacterium 2","step":920,"fitness":0.0006},{"bacterium":"Bacterium 2","step":925,"fitness":0.00015},{"bacterium":"Bacterium 2","step":930,"fitness":0.001},{"bacterium":"Bacterium 2","step":935,"fitness":0.002},{"bacterium":"Bacterium 2","step":940,"fitness":0.0005},{"bacterium":"Bacterium 2","step":945,"fitness":0.0012},
{"bacterium":"Bacterium 2","step":950,"fitness":0.00025},{"bacterium":"Bacterium 2","step":955,"fitness":0.00004},{"bacterium":"Bacterium 2","step":960,"fitness":0.0003},{"bacterium":"Bacterium 2","step":965,"fitness":0.001},{"bacterium":"Bacterium 2","step":970,"fitness":0.0002},{"bacterium":"Bacterium 2","step":975,"fitness":0.0015},{"bacterium":"Bacterium 2","step":980,"fitness":0.003},{"bacterium":"Bacterium 2","step":985,"fitness":0.005},{"bacterium":"Bacterium 2","step":990,"fitness":0.007},{"bacterium":"Bacterium 2","step":995,"fitness":0.0003},{"bacterium":"Bacterium 2","step":1000,"fitness":0.00006},
{"bacterium":"Bacterium 2","step":497.5,"fitness":0.0006},{"bacterium":"Bacterium 2","step":502.5,"fitness":0.0015},{"bacterium":"Bacterium 2","step":507.5,"fitness":0.003},{"bacterium":"Bacterium 2","step":512.5,"fitness":0.0025},{"bacterium":"Bacterium 2","step":517.5,"fitness":0.0008},{"bacterium":"Bacterium 2","step":522.5,"fitness":0.0004},{"bacterium":"Bacterium 2","step":527.5,"fitness":0.0001},{"bacterium":"Bacterium 2","step":532.5,"fitness":0.00015},{"bacterium":"Bacterium 2","step":537.5,"fitness":0.0001},{"bacterium":"Bacterium 2","step":542.5,"fitness":0.0006},
{"bacterium":"Bacterium 2","step":547.5,"fitness":0.0003},{"bacterium":"Bacterium 2","step":552.5,"fitness":0.0015},{"bacterium":"Bacterium 2","step":557.5,"fitness":0.002},{"bacterium":"Bacterium 2","step":562.5,"fitness":0.002},{"bacterium":"Bacterium 2","step":567.5,"fitness":0.0006},{"bacterium":"Bacterium 2","step":572.5,"fitness":0.0008},{"bacterium":"Bacterium 2","step":577.5,"fitness":0.0007},{"bacterium":"Bacterium 2","step":582.5,"fitness":0.0003},{"bacterium":"Bacterium 2","step":587.5,"fitness":0.0005},{"bacterium":"Bacterium 2","step":592.5,"fitness":0.0006},
{"bacterium":"Bacterium 2","step":597.5,"fitness":0.0008},{"bacterium":"Bacterium 2","step":602.5,"fitness":0.0002},{"bacterium":"Bacterium 2","step":607.5,"fitness":0.0003},{"bacterium":"Bacterium 2","step":612.5,"fitness":0.0002},{"bacterium":"Bacterium 2","step":617.5,"fitness":0.0001},{"bacterium":"Bacterium 2","step":622.5,"fitness":0.0008},{"bacterium":"Bacterium 2","step":627.5,"fitness":0.0005},{"bacterium":"Bacterium 2","step":632.5,"fitness":0.0004},{"bacterium":"Bacterium 2","step":637.5,"fitness":0.0003},{"bacterium":"Bacterium 2","step":642.5,"fitness":0.00006},
{"bacterium":"Bacterium 2","step":647.5,"fitness":0.0001},{"bacterium":"Bacterium 2","step":652.5,"fitness":0.0005},{"bacterium":"Bacterium 2","step":657.5,"fitness":0.0012},{"bacterium":"Bacterium 2","step":662.5,"fitness":0.0015},{"bacterium":"Bacterium 2","step":667.5,"fitness":0.006},{"bacterium":"Bacterium 2","step":672.5,"fitness":0.004},{"bacterium":"Bacterium 2","step":677.5,"fitness":0.001},{"bacterium":"Bacterium 2","step":682.5,"fitness":0.0008},{"bacterium":"Bacterium 2","step":687.5,"fitness":0.0006},{"bacterium":"Bacterium 2","step":692.5,"fitness":0.0002},
{"bacterium":"Bacterium 2","step":697.5,"fitness":0.00008},{"bacterium":"Bacterium 2","step":702.5,"fitness":0.00012},{"bacterium":"Bacterium 2","step":707.5,"fitness":0.0005},{"bacterium":"Bacterium 2","step":712.5,"fitness":0.0006},{"bacterium":"Bacterium 2","step":717.5,"fitness":0.0007},{"bacterium":"Bacterium 2","step":722.5,"fitness":0.0005},{"bacterium":"Bacterium 2","step":727.5,"fitness":0.0004},{"bacterium":"Bacterium 2","step":732.5,"fitness":0.0012},{"bacterium":"Bacterium 2","step":737.5,"fitness":0.001},{"bacterium":"Bacterium 2","step":742.5,"fitness":0.0009},
{"bacterium":"Bacterium 2","step":747.5,"fitness":0.0006},{"bacterium":"Bacterium 2","step":752.5,"fitness":0.0002},{"bacterium":"Bacterium 2","step":757.5,"fitness":0.0003},{"bacterium":"Bacterium 2","step":762.5,"fitness":0.0008},{"bacterium":"Bacterium 2","step":767.5,"fitness":0.002},{"bacterium":"Bacterium 2","step":772.5,"fitness":0.002},{"bacterium":"Bacterium 2","step":777.5,"fitness":0.008},{"bacterium":"Bacterium 2","step":782.5,"fitness":0.006},{"bacterium":"Bacterium 2","step":787.5,"fitness":0.002},{"bacterium":"Bacterium 2","step":792.5,"fitness":0.0005},
{"bacterium":"Bacterium 2","step":797.5,"fitness":0.0001},{"bacterium":"Bacterium 2","step":802.5,"fitness":0.00015},{"bacterium":"Bacterium 2","step":807.5,"fitness":0.0008},{"bacterium":"Bacterium 2","step":812.5,"fitness":0.001},{"bacterium":"Bacterium 2","step":817.5,"fitness":0.0015},{"bacterium":"Bacterium 2","step":822.5,"fitness":0.0004},{"bacterium":"Bacterium 2","step":827.5,"fitness":0.0005},{"bacterium":"Bacterium 2","step":832.5,"fitness":0.0007},{"bacterium":"Bacterium 2","step":837.5,"fitness":0.001},{"bacterium":"Bacterium 2","step":842.5,"fitness":0.001},
{"bacterium":"Bacterium 2","step":847.5,"fitness":0.0003},{"bacterium":"Bacterium 2","step":852.5,"fitness":0.0002},{"bacterium":"Bacterium 2","step":857.5,"fitness":0.0008},{"bacterium":"Bacterium 2","step":862.5,"fitness":0.0006},{"bacterium":"Bacterium 2","step":867.5,"fitness":0.001},{"bacterium":"Bacterium 2","step":872.5,"fitness":0.0012},{"bacterium":"Bacterium 2","step":877.5,"fitness":0.0004},{"bacterium":"Bacterium 2","step":882.5,"fitness":0.0003},{"bacterium":"Bacterium 2","step":887.5,"fitness":0.0001},{"bacterium":"Bacterium 2","step":892.5,"fitness":0.0001},
{"bacterium":"Bacterium 2","step":897.5,"fitness":0.0005},{"bacterium":"Bacterium 2","step":902.5,"fitness":0.0005},{"bacterium":"Bacterium 2","step":907.5,"fitness":0.0007},{"bacterium":"Bacterium 2","step":912.5,"fitness":0.002},{"bacterium":"Bacterium 2","step":917.5,"fitness":0.0012},{"bacterium":"Bacterium 2","step":922.5,"fitness":0.0003},{"bacterium":"Bacterium 2","step":927.5,"fitness":0.0004},{"bacterium":"Bacterium 2","step":932.5,"fitness":0.0015},{"bacterium":"Bacterium 2","step":937.5,"fitness":0.0009},{"bacterium":"Bacterium 2","step":942.5,"fitness":0.0008},
{"bacterium":"Bacterium 2","step":947.5,"fitness":0.0006},{"bacterium":"Bacterium 2","step":952.5,"fitness":0.0001},{"bacterium":"Bacterium 2","step":957.5,"fitness":0.0001},{"bacterium":"Bacterium 2","step":962.5,"fitness":0.0006},{"bacterium":"Bacterium 2","step":967.5,"fitness":0.0005},{"bacterium":"Bacterium 2","step":972.5,"fitness":0.0006},{"bacterium":"Bacterium 2","step":977.5,"fitness":0.002},{"bacterium":"Bacterium 2","step":982.5,"fitness":0.004},{"bacterium":"Bacterium 2","step":987.5,"fitness":0.006},{"bacterium":"Bacterium 2","step":992.5,"fitness":0.004},
{"bacterium":"Bacterium 2","step":997.5,"fitness":0.0001}
  ]},
  "layer": [
    {
      "mark": {"type": "line", "strokeWidth": 1.2, "clip": true},
      "encoding": {
        "x": {"field": "step", "type": "quantitative", "scale": {"domain": [0, 1000], "nice": false, "zero": false}, "axis": {"orient": "bottom", "values": [0,100,200,300,400,500,600,700,800,900,1000], "format": "d", "labelOverlap": false, "labelPadding": 16, "title": "Chemotactic steps", "titlePadding": 10}},
        "y": {"field": "fitness", "type": "quantitative", "scale": {"type": "log", "domain": [0.00001, 100], "nice": false}, "axis": {"orient": "left", "values": [0.00001,0.0001,0.001,0.01,0.1,1,10,100], "labelExpr": "datum.value >= 50 ? '10²' : datum.value >= 5 ? '10¹' : datum.value >= 0.5 ? '10⁰' : datum.value >= 0.05 ? '10⁻¹' : datum.value >= 0.005 ? '10⁻²' : datum.value >= 0.0005 ? '10⁻³' : datum.value >= 0.00005 ? '10⁻⁴' : '10⁻⁵'", "labelOverlap": false, "labelPadding": 13, "title": "Fitness (log)", "titlePadding": 20}},
        "color": {"field": "bacterium", "type": "nominal", "scale": {"domain": ["Bacterium 1", "Bacterium 2"], "range": ["#000000", "#2f55ae"]}, "legend": {"orient": "none", "legendX": -2, "legendY": 385, "direction": "vertical", "title": null, "symbolType": "stroke", "symbolSize": 1225, "symbolStrokeWidth": 1.2, "labelOffset": 11, "rowPadding": 4}}
      }
    },
    {
      "mark": {"type": "line", "opacity": 0},
      "encoding": {
        "x": {"field": "step", "type": "quantitative", "axis": {"orient": "top", "values": [0,100,200,300,400,500,600,700,800,900,1000], "labels": false, "title": null}},
        "y": {"field": "fitness", "type": "quantitative", "axis": {"orient": "right", "values": [0.00001,0.0001,0.001,0.01,0.1,1,10,100], "labels": false, "title": null}}
      }
    },
    {
      "mark": {"type": "line", "opacity": 0},
      "encoding": {
        "x": {"field": "step", "type": "quantitative", "axis": null},
        "y": {"field": "fitness", "type": "quantitative", "axis": {"orient": "left", "values": [0.00002,0.00003,0.00004,0.00005,0.00006,0.00007,0.00008,0.00009,0.0002,0.0003,0.0004,0.0005,0.0006,0.0007,0.0008,0.0009,0.002,0.003,0.004,0.005,0.006,0.007,0.008,0.009,0.02,0.03,0.04,0.05,0.06,0.07,0.08,0.09,0.2,0.3,0.4,0.5,0.6,0.7,0.8,0.9,2,3,4,5,6,7,8,9,20,30,40,50,60,70,80,90], "labels": false, "title": null, "tickSize": -3}}
      }
    },
    {
      "mark": {"type": "line", "opacity": 0},
      "encoding": {
        "x": {"field": "step", "type": "quantitative", "axis": null},
        "y": {"field": "fitness", "type": "quantitative", "axis": {"orient": "right", "values": [0.00002,0.00003,0.00004,0.00005,0.00006,0.00007,0.00008,0.00009,0.0002,0.0003,0.0004,0.0005,0.0006,0.0007,0.0008,0.0009,0.002,0.003,0.004,0.005,0.006,0.007,0.008,0.009,0.02,0.03,0.04,0.05,0.06,0.07,0.08,0.09,0.2,0.3,0.4,0.5,0.6,0.7,0.8,0.9,2,3,4,5,6,7,8,9,20,30,40,50,60,70,80,90], "labels": false, "title": null, "tickSize": -3}}
      }
    }
  ],
  "resolve": {"axis": {"x": "independent", "y": "independent"}}
}
]
}
